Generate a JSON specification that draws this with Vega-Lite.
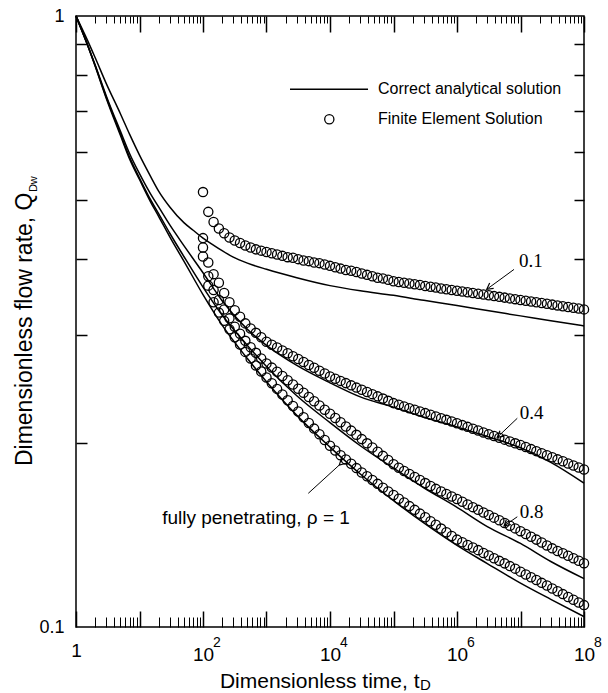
{
"$schema":"https://vega.github.io/schema/vega-lite/v6.json",
"width":508,"height":611,
"autosize":{"type":"none"},
"padding":{"left":76,"top":16,"right":24,"bottom":66},
"background":"white",
"config":{"view":{"stroke":"black","strokeWidth":1.5},"font":"Liberation Sans","axis":{"grid":false,"domain":false,"labelColor":"black","tickColor":"black","titleColor":"black","labelFont":"Liberation Sans","titleFont":"Liberation Sans","titleFontWeight":"normal","labelFlush":false,"labelOverlap":false,"labelBound":false}},
"resolve":{"axis":{"x":"independent","y":"independent"}},
"datasets":{
"analytic":[
{"t":1,"q":1,"r":"0.1"},{"t":1.5,"q":0.915,"r":"0.1"},{"t":2,"q":0.855,"r":"0.1"},{"t":3,"q":0.775,"r":"0.1"},{"t":5,"q":0.692,"r":"0.1"},{"t":7,"q":0.64,"r":"0.1"},{"t":10,"q":0.592,"r":"0.1"},{"t":15,"q":0.546,"r":"0.1"},{"t":20,"q":0.517,"r":"0.1"},{"t":30,"q":0.487,"r":"0.1"},{"t":50,"q":0.459,"r":"0.1"},{"t":70,"q":0.446,"r":"0.1"},{"t":100,"q":0.433,"r":"0.1"},{"t":150,"q":0.421,"r":"0.1"},{"t":200,"q":0.413,"r":"0.1"},{"t":300,"q":0.403,"r":"0.1"},{"t":500,"q":0.394,"r":"0.1"},{"t":1000,"q":0.385,"r":"0.1"},{"t":3000,"q":0.373,"r":"0.1"},{"t":10000,"q":0.362,"r":"0.1"},{"t":30000,"q":0.355,"r":"0.1"},{"t":100000,"q":0.349,"r":"0.1"},{"t":300000,"q":0.3425,"r":"0.1"},{"t":1000000,"q":0.336,"r":"0.1"},{"t":3000000,"q":0.3295,"r":"0.1"},{"t":10000000,"q":0.323,"r":"0.1"},{"t":30000000,"q":0.317,"r":"0.1"},{"t":100000000,"q":0.311,"r":"0.1"},
{"t":1,"q":1,"r":"0.4"},{"t":1.5,"q":0.9,"r":"0.4"},{"t":2,"q":0.832,"r":"0.4"},{"t":3,"q":0.74,"r":"0.4"},{"t":5,"q":0.648,"r":"0.4"},{"t":7,"q":0.595,"r":"0.4"},{"t":10,"q":0.552,"r":"0.4"},{"t":15,"q":0.511,"r":"0.4"},{"t":20,"q":0.487,"r":"0.4"},{"t":30,"q":0.455,"r":"0.4"},{"t":50,"q":0.421,"r":"0.4"},{"t":100,"q":0.38,"r":"0.4"},{"t":200,"q":0.342,"r":"0.4"},{"t":500,"q":0.307,"r":"0.4"},{"t":1000,"q":0.289,"r":"0.4"},{"t":3000,"q":0.268,"r":"0.4"},{"t":10000,"q":0.251,"r":"0.4"},{"t":30000,"q":0.238,"r":"0.4"},{"t":100000,"q":0.229,"r":"0.4"},{"t":300000,"q":0.2205,"r":"0.4"},{"t":1000000,"q":0.2125,"r":"0.4"},{"t":3000000,"q":0.205,"r":"0.4"},{"t":10000000,"q":0.1965,"r":"0.4"},{"t":30000000,"q":0.186,"r":"0.4"},{"t":100000000,"q":0.172,"r":"0.4"},
{"t":1,"q":1,"r":"0.8"},{"t":1.5,"q":0.9,"r":"0.8"},{"t":2,"q":0.83,"r":"0.8"},{"t":3,"q":0.736,"r":"0.8"},{"t":5,"q":0.642,"r":"0.8"},{"t":7,"q":0.587,"r":"0.8"},{"t":10,"q":0.543,"r":"0.8"},{"t":15,"q":0.5,"r":"0.8"},{"t":20,"q":0.475,"r":"0.8"},{"t":30,"q":0.441,"r":"0.8"},{"t":50,"q":0.404,"r":"0.8"},{"t":100,"q":0.36,"r":"0.8"},{"t":200,"q":0.324,"r":"0.8"},{"t":500,"q":0.289,"r":"0.8"},{"t":1000,"q":0.267,"r":"0.8"},{"t":3000,"q":0.239,"r":"0.8"},{"t":10000,"q":0.216,"r":"0.8"},{"t":30000,"q":0.198,"r":"0.8"},{"t":100000,"q":0.182,"r":"0.8"},{"t":300000,"q":0.169,"r":"0.8"},{"t":1000000,"q":0.157,"r":"0.8"},{"t":3000000,"q":0.146,"r":"0.8"},{"t":10000000,"q":0.137,"r":"0.8"},{"t":30000000,"q":0.128,"r":"0.8"},{"t":100000000,"q":0.12,"r":"0.8"},
{"t":1,"q":1,"r":"1"},{"t":1.5,"q":0.9,"r":"1"},{"t":2,"q":0.828,"r":"1"},{"t":3,"q":0.733,"r":"1"},{"t":5,"q":0.638,"r":"1"},{"t":7,"q":0.583,"r":"1"},{"t":10,"q":0.54,"r":"1"},{"t":15,"q":0.496,"r":"1"},{"t":20,"q":0.47,"r":"1"},{"t":30,"q":0.435,"r":"1"},{"t":50,"q":0.397,"r":"1"},{"t":100,"q":0.35,"r":"1"},{"t":200,"q":0.312,"r":"1"},{"t":500,"q":0.275,"r":"1"},{"t":1000,"q":0.252,"r":"1"},{"t":3000,"q":0.222,"r":"1"},{"t":10000,"q":0.197,"r":"1"},{"t":30000,"q":0.178,"r":"1"},{"t":100000,"q":0.161,"r":"1"},{"t":300000,"q":0.148,"r":"1"},{"t":1000000,"q":0.136,"r":"1"},{"t":3000000,"q":0.127,"r":"1"},{"t":10000000,"q":0.118,"r":"1"},{"t":30000000,"q":0.111,"r":"1"},{"t":100000000,"q":0.104,"r":"1"}
],
"fem":[
{"t":100,"q":0.515,"r":"0.1"},{"t":121.15,"q":0.478,"r":"0.1"},{"t":146.78,"q":0.46,"r":"0.1"},{"t":177.83,"q":0.449,"r":"0.1"},{"t":215.44,"q":0.441,"r":"0.1"},{"t":261.02,"q":0.434,"r":"0.1"},{"t":316.23,"q":0.429,"r":"0.1"},{"t":383.12,"q":0.425,"r":"0.1"},{"t":464.16,"q":0.421,"r":"0.1"},{"t":562.34,"q":0.418,"r":"0.1"},{"t":681.29,"q":0.415,"r":"0.1"},{"t":825.4,"q":0.413,"r":"0.1"},
{"t":1000,"q":0.411,"r":"0.1"},{"t":1211.5,"q":0.409,"r":"0.1"},{"t":1467.8,"q":0.407,"r":"0.1"},{"t":1778.3,"q":0.405,"r":"0.1"},{"t":2154.4,"q":0.403,"r":"0.1"},{"t":2610.2,"q":0.402,"r":"0.1"},{"t":3162.3,"q":0.4,"r":"0.1"},{"t":3831.2,"q":0.398,"r":"0.1"},{"t":4641.6,"q":0.397,"r":"0.1"},{"t":5623.4,"q":0.395,"r":"0.1"},{"t":6812.9,"q":0.394,"r":"0.1"},{"t":8254,"q":0.392,"r":"0.1"},
{"t":10000,"q":0.39,"r":"0.1"},{"t":12115,"q":0.388,"r":"0.1"},{"t":14678,"q":0.386,"r":"0.1"},{"t":17783,"q":0.384,"r":"0.1"},{"t":21544,"q":0.383,"r":"0.1"},{"t":26102,"q":0.381,"r":"0.1"},{"t":31623,"q":0.379,"r":"0.1"},{"t":38312,"q":0.377,"r":"0.1"},{"t":46416,"q":0.375,"r":"0.1"},{"t":56234,"q":0.373,"r":"0.1"},{"t":68129,"q":0.372,"r":"0.1"},{"t":82540,"q":0.37,"r":"0.1"},
{"t":100000,"q":0.368,"r":"0.1"},{"t":121150,"q":0.367,"r":"0.1"},{"t":146780,"q":0.366,"r":"0.1"},{"t":177830,"q":0.365,"r":"0.1"},{"t":215440,"q":0.364,"r":"0.1"},{"t":261020,"q":0.363,"r":"0.1"},{"t":316230,"q":0.3615,"r":"0.1"},{"t":383120,"q":0.3605,"r":"0.1"},{"t":464160,"q":0.3595,"r":"0.1"},{"t":562340,"q":0.358,"r":"0.1"},{"t":681290,"q":0.357,"r":"0.1"},{"t":825400,"q":0.356,"r":"0.1"},
{"t":1000000,"q":0.355,"r":"0.1"},{"t":1211500,"q":0.354,"r":"0.1"},{"t":1467800,"q":0.353,"r":"0.1"},{"t":1778300,"q":0.352,"r":"0.1"},{"t":2154400,"q":0.351,"r":"0.1"},{"t":2610200,"q":0.35,"r":"0.1"},{"t":3162300,"q":0.349,"r":"0.1"},{"t":3831200,"q":0.348,"r":"0.1"},{"t":4641600,"q":0.347,"r":"0.1"},{"t":5623400,"q":0.346,"r":"0.1"},{"t":6812900,"q":0.345,"r":"0.1"},{"t":8254000,"q":0.344,"r":"0.1"},
{"t":10000000,"q":0.343,"r":"0.1"},{"t":12115000,"q":0.342,"r":"0.1"},{"t":14678000,"q":0.341,"r":"0.1"},{"t":17783000,"q":0.34,"r":"0.1"},{"t":21544000,"q":0.339,"r":"0.1"},{"t":26102000,"q":0.338,"r":"0.1"},{"t":31623000,"q":0.337,"r":"0.1"},{"t":38312000,"q":0.336,"r":"0.1"},{"t":46416000,"q":0.335,"r":"0.1"},{"t":56234000,"q":0.334,"r":"0.1"},{"t":68129000,"q":0.333,"r":"0.1"},{"t":82540000,"q":0.332,"r":"0.1"},{"t":100000000,"q":0.331,"r":"0.1"},
{"t":100,"q":0.433,"r":"0.4"},{"t":121.15,"q":0.395,"r":"0.4"},{"t":146.78,"q":0.378,"r":"0.4"},{"t":177.83,"q":0.366,"r":"0.4"},{"t":215.44,"q":0.352,"r":"0.4"},{"t":261.02,"q":0.34,"r":"0.4"},{"t":316.23,"q":0.33,"r":"0.4"},{"t":383.12,"q":0.322,"r":"0.4"},{"t":464.16,"q":0.314,"r":"0.4"},{"t":562.34,"q":0.308,"r":"0.4"},{"t":681.29,"q":0.303,"r":"0.4"},{"t":825.4,"q":0.298,"r":"0.4"},
{"t":1000,"q":0.293,"r":"0.4"},{"t":1211.5,"q":0.2898,"r":"0.4"},{"t":1467.8,"q":0.2867,"r":"0.4"},{"t":1778.3,"q":0.2836,"r":"0.4"},{"t":2154.4,"q":0.2805,"r":"0.4"},{"t":2610.2,"q":0.2775,"r":"0.4"},{"t":3162.3,"q":0.2745,"r":"0.4"},{"t":3831.2,"q":0.2715,"r":"0.4"},{"t":4641.6,"q":0.2685,"r":"0.4"},{"t":5623.4,"q":0.2656,"r":"0.4"},{"t":6812.9,"q":0.2627,"r":"0.4"},{"t":8254,"q":0.2599,"r":"0.4"},
{"t":10000,"q":0.257,"r":"0.4"},{"t":12115,"q":0.2549,"r":"0.4"},{"t":14678,"q":0.2528,"r":"0.4"},{"t":17783,"q":0.2507,"r":"0.4"},{"t":21544,"q":0.2486,"r":"0.4"},{"t":26102,"q":0.2465,"r":"0.4"},{"t":31623,"q":0.2445,"r":"0.4"},{"t":38312,"q":0.2425,"r":"0.4"},{"t":46416,"q":0.2405,"r":"0.4"},{"t":56234,"q":0.2385,"r":"0.4"},{"t":68129,"q":0.2365,"r":"0.4"},{"t":82540,"q":0.2345,"r":"0.4"},
{"t":100000,"q":0.2325,"r":"0.4"},{"t":121150,"q":0.231,"r":"0.4"},{"t":146780,"q":0.2296,"r":"0.4"},{"t":177830,"q":0.2281,"r":"0.4"},{"t":215440,"q":0.2267,"r":"0.4"},{"t":261020,"q":0.2253,"r":"0.4"},{"t":316230,"q":0.2239,"r":"0.4"},{"t":383120,"q":0.2225,"r":"0.4"},{"t":464160,"q":0.2211,"r":"0.4"},{"t":562340,"q":0.2197,"r":"0.4"},{"t":681290,"q":0.2183,"r":"0.4"},{"t":825400,"q":0.2169,"r":"0.4"},
{"t":1000000,"q":0.2155,"r":"0.4"},{"t":1211500,"q":0.214,"r":"0.4"},{"t":1467800,"q":0.2126,"r":"0.4"},{"t":1778300,"q":0.2111,"r":"0.4"},{"t":2154400,"q":0.2097,"r":"0.4"},{"t":2610200,"q":0.2082,"r":"0.4"},{"t":3162300,"q":0.2068,"r":"0.4"},{"t":3831200,"q":0.2054,"r":"0.4"},{"t":4641600,"q":0.204,"r":"0.4"},{"t":5623400,"q":0.2026,"r":"0.4"},{"t":6812900,"q":0.2012,"r":"0.4"},{"t":8254000,"q":0.1998,"r":"0.4"},
{"t":10000000,"q":0.1985,"r":"0.4"},{"t":12115000,"q":0.197,"r":"0.4"},{"t":14678000,"q":0.1955,"r":"0.4"},{"t":17783000,"q":0.194,"r":"0.4"},{"t":21544000,"q":0.1925,"r":"0.4"},{"t":26102000,"q":0.191,"r":"0.4"},{"t":31623000,"q":0.1896,"r":"0.4"},{"t":38312000,"q":0.1881,"r":"0.4"},{"t":46416000,"q":0.1867,"r":"0.4"},{"t":56234000,"q":0.1852,"r":"0.4"},{"t":68129000,"q":0.1838,"r":"0.4"},{"t":82540000,"q":0.1824,"r":"0.4"},{"t":100000000,"q":0.181,"r":"0.4"},
{"t":100,"q":0.418,"r":"0.8"},{"t":121.15,"q":0.375,"r":"0.8"},{"t":146.78,"q":0.356,"r":"0.8"},{"t":177.83,"q":0.343,"r":"0.8"},{"t":215.44,"q":0.331,"r":"0.8"},{"t":261.02,"q":0.32,"r":"0.8"},{"t":316.23,"q":0.31,"r":"0.8"},{"t":383.12,"q":0.302,"r":"0.8"},{"t":464.16,"q":0.294,"r":"0.8"},{"t":562.34,"q":0.287,"r":"0.8"},{"t":681.29,"q":0.281,"r":"0.8"},{"t":825.4,"q":0.275,"r":"0.8"},
{"t":1000,"q":0.27,"r":"0.8"},{"t":1211.5,"q":0.2658,"r":"0.8"},{"t":1467.8,"q":0.2616,"r":"0.8"},{"t":1778.3,"q":0.2575,"r":"0.8"},{"t":2154.4,"q":0.2534,"r":"0.8"},{"t":2610.2,"q":0.2494,"r":"0.8"},{"t":3162.3,"q":0.2455,"r":"0.8"},{"t":3831.2,"q":0.2417,"r":"0.8"},{"t":4641.6,"q":0.2379,"r":"0.8"},{"t":5623.4,"q":0.2341,"r":"0.8"},{"t":6812.9,"q":0.2305,"r":"0.8"},{"t":8254,"q":0.2268,"r":"0.8"},
{"t":10000,"q":0.2233,"r":"0.8"},{"t":12115,"q":0.2198,"r":"0.8"},{"t":14678,"q":0.2163,"r":"0.8"},{"t":17783,"q":0.2129,"r":"0.8"},{"t":21544,"q":0.2096,"r":"0.8"},{"t":26102,"q":0.2063,"r":"0.8"},{"t":31623,"q":0.203,"r":"0.8"},{"t":38312,"q":0.1998,"r":"0.8"},{"t":46416,"q":0.1967,"r":"0.8"},{"t":56234,"q":0.1936,"r":"0.8"},{"t":68129,"q":0.1906,"r":"0.8"},{"t":82540,"q":0.1876,"r":"0.8"},
{"t":100000,"q":0.1846,"r":"0.8"},{"t":121150,"q":0.1822,"r":"0.8"},{"t":146780,"q":0.18,"r":"0.8"},{"t":177830,"q":0.178,"r":"0.8"},{"t":215440,"q":0.176,"r":"0.8"},{"t":261020,"q":0.174,"r":"0.8"},{"t":316230,"q":0.172,"r":"0.8"},{"t":383120,"q":0.1701,"r":"0.8"},{"t":464160,"q":0.1683,"r":"0.8"},{"t":562340,"q":0.1667,"r":"0.8"},{"t":681290,"q":0.1651,"r":"0.8"},{"t":825400,"q":0.1635,"r":"0.8"},
{"t":1000000,"q":0.162,"r":"0.8"},{"t":1211500,"q":0.1603,"r":"0.8"},{"t":1467800,"q":0.1587,"r":"0.8"},{"t":1778300,"q":0.1571,"r":"0.8"},{"t":2154400,"q":0.1555,"r":"0.8"},{"t":2610200,"q":0.154,"r":"0.8"},{"t":3162300,"q":0.1525,"r":"0.8"},{"t":3831200,"q":0.151,"r":"0.8"},{"t":4641600,"q":0.1495,"r":"0.8"},{"t":5623400,"q":0.148,"r":"0.8"},{"t":6812900,"q":0.1465,"r":"0.8"},{"t":8254000,"q":0.145,"r":"0.8"},
{"t":10000000,"q":0.1435,"r":"0.8"},{"t":12115000,"q":0.142,"r":"0.8"},{"t":14678000,"q":0.1405,"r":"0.8"},{"t":17783000,"q":0.139,"r":"0.8"},{"t":21544000,"q":0.1375,"r":"0.8"},{"t":26102000,"q":0.136,"r":"0.8"},{"t":31623000,"q":0.1345,"r":"0.8"},{"t":38312000,"q":0.1332,"r":"0.8"},{"t":46416000,"q":0.132,"r":"0.8"},{"t":56234000,"q":0.1308,"r":"0.8"},{"t":68129000,"q":0.1296,"r":"0.8"},{"t":82540000,"q":0.1284,"r":"0.8"},{"t":100000000,"q":0.1272,"r":"0.8"},
{"t":100,"q":0.404,"r":"1"},{"t":121.15,"q":0.362,"r":"1"},{"t":146.78,"q":0.34,"r":"1"},{"t":177.83,"q":0.327,"r":"1"},{"t":215.44,"q":0.317,"r":"1"},{"t":261.02,"q":0.307,"r":"1"},{"t":316.23,"q":0.298,"r":"1"},{"t":383.12,"q":0.29,"r":"1"},{"t":464.16,"q":0.282,"r":"1"},{"t":562.34,"q":0.275,"r":"1"},{"t":681.29,"q":0.268,"r":"1"},{"t":825.4,"q":0.262,"r":"1"},
{"t":1000,"q":0.256,"r":"1"},{"t":1211.5,"q":0.2506,"r":"1"},{"t":1467.8,"q":0.2453,"r":"1"},{"t":1778.3,"q":0.2401,"r":"1"},{"t":2154.4,"q":0.235,"r":"1"},{"t":2610.2,"q":0.23,"r":"1"},{"t":3162.3,"q":0.2252,"r":"1"},{"t":3831.2,"q":0.2204,"r":"1"},{"t":4641.6,"q":0.2157,"r":"1"},{"t":5623.4,"q":0.2112,"r":"1"},{"t":6812.9,"q":0.2067,"r":"1"},{"t":8254,"q":0.2023,"r":"1"},
{"t":10000,"q":0.198,"r":"1"},{"t":12115,"q":0.1945,"r":"1"},{"t":14678,"q":0.191,"r":"1"},{"t":17783,"q":0.188,"r":"1"},{"t":21544,"q":0.185,"r":"1"},{"t":26102,"q":0.182,"r":"1"},{"t":31623,"q":0.179,"r":"1"},{"t":38312,"q":0.1765,"r":"1"},{"t":46416,"q":0.174,"r":"1"},{"t":56234,"q":0.1715,"r":"1"},{"t":68129,"q":0.169,"r":"1"},{"t":82540,"q":0.1667,"r":"1"},
{"t":100000,"q":0.1645,"r":"1"},{"t":121150,"q":0.1622,"r":"1"},{"t":146780,"q":0.1599,"r":"1"},{"t":177830,"q":0.1577,"r":"1"},{"t":215440,"q":0.1555,"r":"1"},{"t":261020,"q":0.1533,"r":"1"},{"t":316230,"q":0.1512,"r":"1"},{"t":383120,"q":0.149,"r":"1"},{"t":464160,"q":0.147,"r":"1"},{"t":562340,"q":0.1449,"r":"1"},{"t":681290,"q":0.1429,"r":"1"},{"t":825400,"q":0.1409,"r":"1"},
{"t":1000000,"q":0.139,"r":"1"},{"t":1211500,"q":0.1376,"r":"1"},{"t":1467800,"q":0.1362,"r":"1"},{"t":1778300,"q":0.1349,"r":"1"},{"t":2154400,"q":0.1336,"r":"1"},{"t":2610200,"q":0.1322,"r":"1"},{"t":3162300,"q":0.1309,"r":"1"},{"t":3831200,"q":0.1296,"r":"1"},{"t":4641600,"q":0.1283,"r":"1"},{"t":5623400,"q":0.1271,"r":"1"},{"t":6812900,"q":0.1258,"r":"1"},{"t":8254000,"q":0.1246,"r":"1"},
{"t":10000000,"q":0.1232,"r":"1"},{"t":12115000,"q":0.1219,"r":"1"},{"t":14678000,"q":0.1206,"r":"1"},{"t":17783000,"q":0.1194,"r":"1"},{"t":21544000,"q":0.1181,"r":"1"},{"t":26102000,"q":0.1169,"r":"1"},{"t":31623000,"q":0.1156,"r":"1"},{"t":38312000,"q":0.1144,"r":"1"},{"t":46416000,"q":0.1132,"r":"1"},{"t":56234000,"q":0.112,"r":"1"},{"t":68129000,"q":0.1108,"r":"1"},{"t":82540000,"q":0.1097,"r":"1"},{"t":100000000,"q":0.1086,"r":"1"}
],
"arrows":[
{"lab":"0.1","x1":7900000,"y1":0.3848,"x2":2940000,"y2":0.357},
{"lab":"0.4","x1":8900000,"y1":0.2196,"x2":4310000,"y2":0.2044},
{"lab":"0.8","x1":8900000,"y1":0.1515,"x2":5500000,"y2":0.1463},
{"lab":"1","x1":4550,"y1":0.1655,"x2":14000,"y2":0.1841}
]
},
"layer":[
{"data":{"name":"analytic"},
 "mark":{"type":"line","color":"black","strokeWidth":1.5,"interpolate":"monotone"},
 "encoding":{
  "x":{"field":"t","type":"quantitative","scale":{"type":"log","domain":[1,100000000],"nice":false},
   "axis":{"orient":"bottom","values":[100,10000,1000000,100000000],"labelExpr":"'10'","ticks":false,"labelFontSize":19,"labelPadding":18,"labelBaseline":"top","title":"Dimensionless time, t","titleFontSize":21,"titleX":343,"titleY":60,"titleAlign":"right","titleBaseline":"alphabetic"}},
  "y":{"field":"q","type":"quantitative","scale":{"type":"log","domain":[0.1,1],"nice":false},
   "axis":{"orient":"left","values":[0.1,1],"labelExpr":"datum.value < 0.5 ? '0.1' : '1'","ticks":false,"labelFontSize":18,"labelPadding":12,"labelBaseline":"middle","title":"Dimensionless flow rate, Q","titleFontSize":23,"titleX":-45,"titleY":176,"titleAngle":270,"titleAlign":"right","titleBaseline":"alphabetic"}},
  "detail":{"field":"r"}}},
{"data":{"name":"fem"},
 "mark":{"type":"point","shape":"circle","filled":false,"stroke":"black","strokeWidth":1.3,"size":85,"opacity":1},
 "encoding":{
  "x":{"field":"t","type":"quantitative","axis":{"orient":"bottom","values":[1,10,100,1000,10000,100000,1000000,10000000,100000000],"labels":false,"tickSize":-16,"tickWidth":1.5,"title":null}},
  "y":{"field":"q","type":"quantitative","axis":{"orient":"left","values":[0.2,0.3,0.4,0.5,0.6,0.7,0.8,0.9],"labels":false,"tickSize":-11,"tickWidth":1.5,"title":null}}}},
{"data":{"values":[{"x1":2345,"x2":39700,"y":0.7586}]},
 "mark":{"type":"rule","color":"black","strokeWidth":1.5},
 "encoding":{
  "x":{"field":"x1","type":"quantitative","axis":{"orient":"bottom","values":[2,3,4,5,6,7,8,9,20,30,40,50,60,70,80,90,200,300,400,500,600,700,800,900,2000,3000,4000,5000,6000,7000,8000,9000,20000,30000,40000,50000,60000,70000,80000,90000,200000,300000,400000,500000,600000,700000,800000,900000,2000000,3000000,4000000,5000000,6000000,7000000,8000000,9000000,20000000,30000000,40000000,50000000,60000000,70000000,80000000,90000000],"labels":false,"tickSize":-10,"tickWidth":1,"title":null}},
  "x2":{"field":"x2"},
  "y":{"field":"y","type":"quantitative","axis":{"orient":"right","values":[0.2,0.3,0.4,0.5,0.6,0.7,0.8,0.9],"labels":false,"tickSize":-10,"tickWidth":1.5,"title":null}}}},
{"data":{"values":[{"x":9750,"y":0.6776}]},
 "mark":{"type":"point","shape":"circle","filled":false,"stroke":"black","strokeWidth":1.3,"size":85,"opacity":1},
 "encoding":{
  "x":{"field":"x","type":"quantitative","axis":{"orient":"bottom","values":[1],"labelExpr":"'1'","ticks":false,"labelFontSize":19,"labelPadding":14,"labelBaseline":"top","title":null}},
  "y":{"field":"y","type":"quantitative","axis":null}}},
{"data":{"values":[{"x":57000,"y":0.7586,"txt":"Correct analytical solution"},{"x":57000,"y":0.6776,"txt":"Finite Element Solution"}]},
 "mark":{"type":"text","align":"left","baseline":"middle","font":"Liberation Sans","fontSize":16,"color":"black"},
 "encoding":{
  "x":{"field":"x","type":"quantitative","axis":{"orient":"top","values":[1,10,100,1000,10000,100000,1000000,10000000,100000000],"labels":false,"tickSize":-16,"tickWidth":1.5,"title":null}},
  "y":{"field":"y","type":"quantitative","axis":null},
  "text":{"field":"txt"}}},
{"data":{"values":[{"x":14600000,"y":0.397,"txt":"0.1"},{"x":15000000,"y":0.2244,"txt":"0.4"},{"x":15000000,"y":0.154,"txt":"0.8"}]},
 "mark":{"type":"text","align":"center","baseline":"middle","font":"Liberation Serif","fontSize":19,"color":"black"},
 "encoding":{
  "x":{"field":"x","type":"quantitative","axis":{"orient":"top","values":[2,3,4,5,6,7,8,9,20,30,40,50,60,70,80,90,200,300,400,500,600,700,800,900,2000,3000,4000,5000,6000,7000,8000,9000,20000,30000,40000,50000,60000,70000,80000,90000,200000,300000,400000,500000,600000,700000,800000,900000,2000000,3000000,4000000,5000000,6000000,7000000,8000000,9000000,20000000,30000000,40000000,50000000,60000000,70000000,80000000,90000000],"labels":false,"tickSize":-7,"tickWidth":1,"title":null}},
  "y":{"field":"y","type":"quantitative","axis":null},
  "text":{"field":"txt"}}},
{"data":{"values":[{"x":684,"y":0.1508,"txt":"fully penetrating, ρ = 1"}]},
 "mark":{"type":"text","align":"center","baseline":"middle","font":"Liberation Sans","fontSize":19,"color":"black"},
 "encoding":{
  "x":{"field":"x","type":"quantitative","axis":null},
  "y":{"field":"y","type":"quantitative","axis":null},
  "text":{"field":"txt"}}},
{"data":{"name":"arrows"},
 "mark":{"type":"rule","color":"black","strokeWidth":1},
 "encoding":{
  "x":{"field":"x1","type":"quantitative","axis":null},
  "x2":{"field":"x2"},
  "y":{"field":"y1","type":"quantitative","axis":null},
  "y2":{"field":"y2"}}},
{"data":{"name":"arrows"},
 "mark":{"type":"point","shape":"M-0.55,-1L0,0L0.55,-1","filled":false,"stroke":"black","strokeWidth":1.2,"size":150,"opacity":1},
 "encoding":{
  "x":{"field":"x2","type":"quantitative","axis":null},
  "y":{"field":"y2","type":"quantitative","axis":null},
  "angle":{"field":"lab","type":"nominal","scale":{"domain":["0.1","0.4","0.8","1"],"range":[53.5,46.5,55,227.6]},"legend":null}}},
{"data":{"values":[{"x":100,"s":"2"},{"x":10000,"s":"4"},{"x":1000000,"s":"6"},{"x":100000000,"s":"8"}]},
 "mark":{"type":"text","align":"left","baseline":"middle","dx":10,"font":"Liberation Sans","fontSize":14,"color":"black"},
 "encoding":{
  "x":{"field":"x","type":"quantitative","axis":null},
  "y":{"datum":0.0941,"type":"quantitative","axis":null},
  "text":{"field":"s"}}},
{"data":{"values":[{"x":261000,"s":"D"}]},
 "mark":{"type":"text","align":"left","baseline":"alphabetic","font":"Liberation Sans","fontSize":15,"color":"black"},
 "encoding":{
  "x":{"field":"x","type":"quantitative","axis":null},
  "y":{"datum":0.0788,"type":"quantitative","axis":null},
  "text":{"field":"s"}}},
{"data":{"values":[{"x":0.243,"s":"Dw"}]},
 "mark":{"type":"text","align":"left","baseline":"alphabetic","angle":270,"font":"Liberation Sans","fontSize":11,"color":"black"},
 "encoding":{
  "x":{"field":"x","type":"quantitative","axis":null},
  "y":{"datum":0.515,"type":"quantitative","axis":null},
  "text":{"field":"s"}}}
]
}
